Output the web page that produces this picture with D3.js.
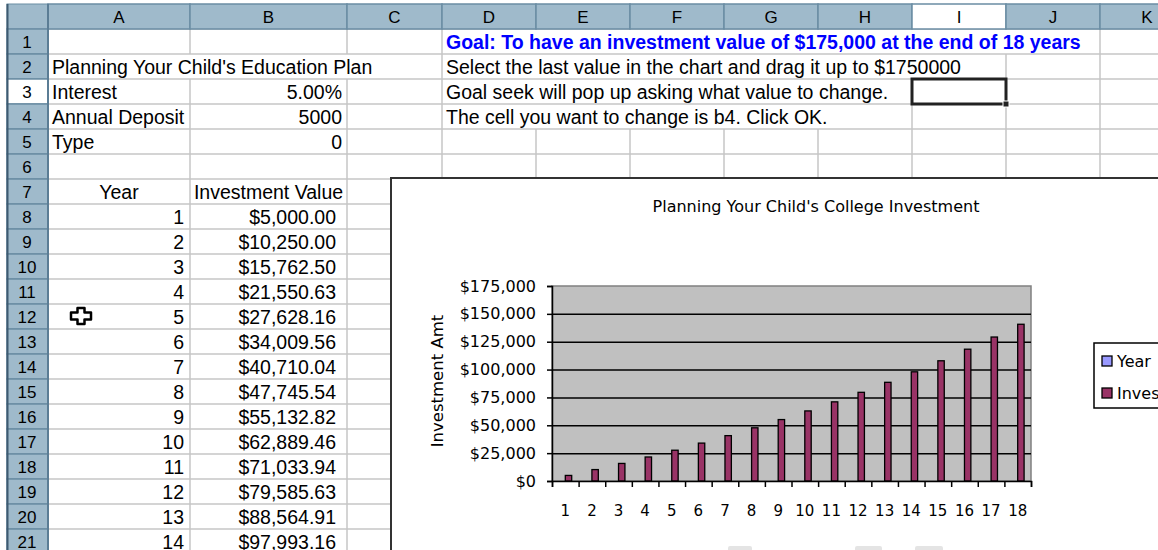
<!DOCTYPE html>
<html>
<head>
<meta charset="utf-8">
<script src="https://cdn.jsdelivr.net/npm/d3@7"></script>
<style>
  body { margin: 0; background: #fff; }
  svg { display: block; }
  .cell { font-family: "Liberation Sans", Arial, sans-serif; font-size: 19.5px; fill: #000; }
  .goal { font-weight: bold; fill: #0000ff; }
  .hdr { font-family: "Liberation Sans", Arial, sans-serif; font-size: 17px; fill: #000; }
  .chart text { font-family: "DejaVu Sans", sans-serif; }
</style>
</head>
<body>
<div id="sheet"></div>
<script>
// chart data
var years = [1, 2, 3, 4, 5, 6, 7, 8, 9, 10, 11, 12, 13, 14, 15, 16, 17, 18];
var investment = [5000, 10250, 15762.50, 21550.63, 27628.16, 34009.56, 40710.04, 47745.54, 55132.82,
    62889.46, 71033.94, 79585.63, 88564.91, 97993.16, 107892.82, 118287.46, 129201.83, 140661.92];
var seriesNames = ["Year", "Investment Value"];
var seriesColors = ["#9999ff", "#993366"];
var yTicks = [0, 25000, 50000, 75000, 100000, 125000, 150000, 175000];

// sheet layout
var colNames = ["A", "B", "C", "D", "E", "F", "G", "H", "I", "J", "K"];
var colWidths = [142, 157, 95, 94, 94, 94, 94, 94, 94, 94, 94];
var tableRows = 14; // rows 8..21 show years 1..14

var W = 1158, H = 550;
var left0 = 48, headTop = 4, top0 = 29, rowH = 25, nRows = 21;

var colX = [left0];
colWidths.forEach(function (w, i) { colX.push(colX[i] + w); });
var colIdx = function (c) { return colNames.indexOf(c); };
var rowY = function (r) { return top0 + (r - 1) * rowH; };

var cells = [
    { r: 1, c: "D", t: "Goal: To have an investment value of $175,000 at the end of 18 years", cls: "goal" },
    { r: 2, c: "A", t: "Planning Your Child's Education Plan" },
    { r: 2, c: "D", t: "Select the last value in the chart and drag it up to $1750000" },
    { r: 3, c: "A", t: "Interest" },
    { r: 3, c: "B", t: "5.00%", a: "end" },
    { r: 3, c: "D", t: "Goal seek will pop up asking what value to change." },
    { r: 4, c: "A", t: "Annual Deposit" },
    { r: 4, c: "B", t: "5000", a: "end" },
    { r: 4, c: "D", t: "The cell you want to change is b4. Click OK." },
    { r: 5, c: "A", t: "Type" },
    { r: 5, c: "B", t: "0", a: "end" },
    { r: 7, c: "A", t: "Year", a: "middle" },
    { r: 7, c: "B", t: "Investment Value", a: "middle" }
];
var money = d3.format("$,.2f");
for (var i = 0; i < tableRows; i++) {
    cells.push({ r: 8 + i, c: "A", t: String(years[i]), a: "end", pad: 6 });
    cells.push({ r: 8 + i, c: "B", t: money(investment[i]), a: "end", pad: 11 });
}

var svg = d3.select("#sheet").append("svg")
    .attr("width", W)
    .attr("height", H);

svg.append("rect").attr("width", W).attr("height", H).attr("fill", "#fff");

var gridG = svg.append("g");
var textG = svg.append("g");

// cell texts
var covered = {};
cells.forEach(function (d) {
    var ci = colIdx(d.c);
    var xl = colX[ci], xr = colX[ci + 1];
    var tx = d.a === "end" ? xr - (d.pad || 5) : d.a === "middle" ? (xl + xr) / 2 : xl + 4;
    var t = textG.append("text")
        .attr("class", "cell" + (d.cls ? " " + d.cls : ""))
        .attr("x", tx)
        .attr("y", rowY(d.r) + rowH - 5)
        .attr("text-anchor", d.a || "start")
        .text(d.t);
    if (!d.a) {
        var w = t.node().getComputedTextLength();
        (covered[d.r] = covered[d.r] || []).push([xl, tx + w + 2]);
    }
});

// gridlines
for (var r = 1; r <= nRows + 1; r++) {
    gridG.append("line")
        .attr("x1", left0).attr("x2", W)
        .attr("y1", rowY(r)).attr("y2", rowY(r))
        .attr("stroke", "#c6c6c6").attr("stroke-width", 1.5);
}
for (var r2 = 1; r2 <= nRows; r2++) {
    colX.slice(1).forEach(function (x) {
        var hid = (covered[r2] || []).some(function (s) { return x > s[0] && x < s[1]; });
        if (hid) return;
        gridG.append("line")
            .attr("x1", x).attr("x2", x)
            .attr("y1", rowY(r2)).attr("y2", rowY(r2 + 1))
            .attr("stroke", "#c6c6c6").attr("stroke-width", 1.5);
    });
}

// column headers
var hdrFill = "#9fbacb", hdrLine = "#6b8da4";
svg.append("rect").attr("x", 7).attr("y", headTop).attr("width", left0 - 7).attr("height", top0 - headTop)
    .attr("fill", hdrFill).attr("stroke", hdrLine);
colNames.forEach(function (c, i) {
    svg.append("rect")
        .attr("x", colX[i]).attr("y", headTop)
        .attr("width", colWidths[i]).attr("height", top0 - headTop)
        .attr("fill", c === "I" ? "#ffffff" : hdrFill)
        .attr("stroke", hdrLine).attr("stroke-width", 1.5);
    svg.append("text").attr("class", "hdr")
        .attr("x", colX[i] + colWidths[i] / 2).attr("y", top0 - 6)
        .attr("text-anchor", "middle").text(c);
});
// row headers
for (var k = 1; k <= nRows; k++) {
    svg.append("rect")
        .attr("x", 7).attr("y", rowY(k))
        .attr("width", left0 - 7).attr("height", rowH)
        .attr("fill", k === 3 ? "#ffffff" : hdrFill)
        .attr("stroke", hdrLine).attr("stroke-width", 1.5);
    svg.append("text").attr("class", "hdr")
        .attr("x", 27).attr("y", rowY(k) + rowH - 6)
        .attr("text-anchor", "middle").text(k);
}
svg.append("line").attr("x1", 7.5).attr("x2", 7.5).attr("y1", headTop).attr("y2", H)
    .attr("stroke", "#3e5a70").attr("stroke-width", 2);
svg.append("line").attr("x1", left0).attr("x2", left0).attr("y1", headTop).attr("y2", H)
    .attr("stroke", "#5b7d95").attr("stroke-width", 2);

// selected cell I3
var selX = colX[colIdx("I")], selY = rowY(3);
svg.append("rect")
    .attr("x", selX).attr("y", selY)
    .attr("width", colWidths[colIdx("I")]).attr("height", rowH)
    .attr("fill", "none").attr("stroke", "#222").attr("stroke-width", 3);
svg.append("rect")
    .attr("x", selX + colWidths[colIdx("I")] - 3).attr("y", selY + rowH - 3)
    .attr("width", 6).attr("height", 6).attr("fill", "#222").attr("stroke", "#fff");

// ---------------- chart ----------------
var chart = svg.append("g").attr("class", "chart");

chart.append("rect")
    .attr("x", 391).attr("y", 178)
    .attr("width", 900).attr("height", 500)
    .attr("fill", "#fff").attr("stroke", "#333").attr("stroke-width", 2);

var plot = { left: 552, right: 1031, top: 286, bottom: 481 };

var x = d3.scaleBand().domain(years).range([plot.left, plot.right]);
var xs = d3.scaleBand().domain(seriesNames).range([0, x.bandwidth()]).paddingOuter(1.08);
var xEdge = d3.scaleLinear().domain([0, years.length]).range([plot.left, plot.right]);
var y = d3.scaleLinear().domain([0, 175000]).range([plot.bottom, plot.top]);

chart.append("rect")
    .attr("x", plot.left).attr("y", plot.top)
    .attr("width", plot.right - plot.left).attr("height", plot.bottom - plot.top)
    .attr("fill", "#c0c0c0").attr("stroke", "#808080").attr("stroke-width", 1.5);

// gridlines
chart.append("g")
    .attr("transform", "translate(" + plot.left + ",0)")
    .call(d3.axisLeft(y).tickValues(yTicks.slice(1, -1)).tickSize(-(plot.right - plot.left)).tickFormat(""))
    .call(function (g) { g.select(".domain").remove(); })
    .selectAll("line").attr("stroke", "#000").attr("stroke-width", 1.5);

// bars
var table = years.map(function (yr, i) { return { year: yr, values: [yr, investment[i]] }; });
chart.append("g").selectAll("g")
    .data(table)
    .join("g")
    .attr("transform", function (d) { return "translate(" + x(d.year) + ",0)"; })
    .selectAll("rect")
    .data(function (d) { return d.values.map(function (v, j) { return { s: seriesNames[j], v: v, j: j }; }); })
    .join("rect")
    .attr("x", function (d) { return xs(d.s); })
    .attr("y", function (d) { return y(d.v); })
    .attr("width", xs.bandwidth())
    .attr("height", function (d) { return y(0) - y(d.v); })
    .attr("fill", function (d) { return seriesColors[d.j]; })
    .attr("stroke", function (d) { return d.j === 0 ? "none" : "#000"; })
    .attr("stroke-width", 1.3);

// y axis
var yAxis = chart.append("g")
    .attr("transform", "translate(" + plot.left + ",0)")
    .call(d3.axisLeft(y).tickValues(yTicks).tickSize(5).tickPadding(11).tickFormat(d3.format("$,")));
yAxis.select(".domain").attr("stroke", "#000").attr("stroke-width", 1.5);
yAxis.selectAll("line").attr("stroke", "#000").attr("stroke-width", 1.5);
yAxis.selectAll("text").attr("font-size", 16).attr("fill", "#000")
    .attr("font-family", "Liberation Sans, Arial, sans-serif");

// x axis: ticks at category edges, labels at centres
var xTicksG = chart.append("g")
    .attr("transform", "translate(0," + plot.bottom + ")")
    .call(d3.axisBottom(xEdge).ticks(years.length).tickSize(6).tickFormat(""));
xTicksG.select(".domain").attr("stroke", "#000").attr("stroke-width", 1.5);
xTicksG.selectAll("line").attr("stroke", "#000").attr("stroke-width", 1.5);

var xLab = chart.append("g")
    .attr("transform", "translate(0," + plot.bottom + ")")
    .call(d3.axisBottom(x).tickSize(0).tickPadding(24));
xLab.select(".domain").remove();
xLab.selectAll("text").attr("font-size", 15).attr("fill", "#000")
    .attr("font-family", "Liberation Sans, Arial, sans-serif");

// titles
chart.append("text")
    .attr("x", 816).attr("y", 212)
    .attr("text-anchor", "middle").attr("font-size", 16)
    .text("Planning Your Child's College Investment");
chart.append("text")
    .attr("transform", "translate(437,381) rotate(-90)")
    .attr("text-anchor", "middle").attr("dominant-baseline", "central").attr("font-size", 16.5)
    .text("Investment Amt");

// legend
var leg = chart.append("g").attr("transform", "translate(1094,343)");
leg.append("rect").attr("width", 120).attr("height", 65)
    .attr("fill", "#fff").attr("stroke", "#000").attr("stroke-width", 1.5);
leg.selectAll("g.item")
    .data(seriesNames)
    .join("g").attr("class", "item")
    .attr("transform", function (d, i) { return "translate(8," + (13 + i * 32) + ")"; })
    .call(function (g) {
        g.append("rect").attr("width", 10).attr("height", 10)
            .attr("fill", function (d, i) { return seriesColors[i]; })
            .attr("stroke", "#000").attr("stroke-width", 1.3);
        g.append("text").attr("x", 15).attr("y", 5)
            .attr("dominant-baseline", "central").attr("font-size", 16)
            .text(function (d) { return d; });
    });

// faint shapes at the bottom edge
[[728, 24], [855, 27], [915, 28]].forEach(function (s) {
    svg.append("rect").attr("x", s[0]).attr("y", 546).attr("width", s[1]).attr("height", 8)
        .attr("rx", 2).attr("fill", "#e4e4e4");
});

// mouse cursor (white cross)
svg.append("path")
    .attr("transform", "translate(81,316)")
    .attr("d", "M-3.5,-8 H3.5 V-3.5 H10 V3.5 H3.5 V8 H-3.5 V3.5 H-10 V-3.5 H-3.5 Z")
    .attr("fill", "#fff").attr("stroke", "#000").attr("stroke-width", 2.5)
    .attr("stroke-linejoin", "round");
</script>
</body>
</html>
